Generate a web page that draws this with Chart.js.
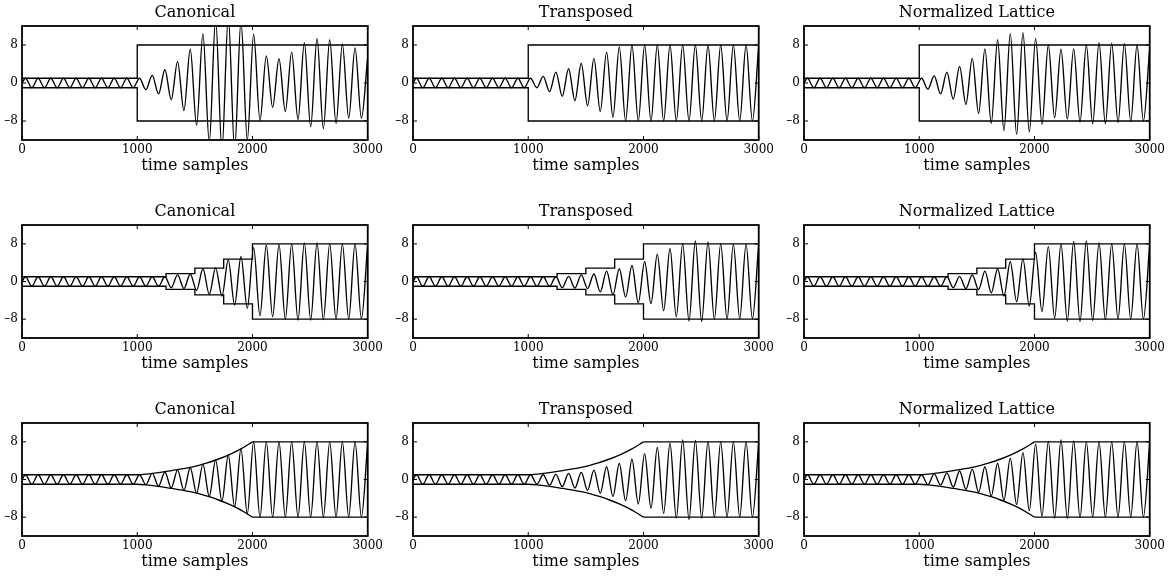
<!DOCTYPE html>
<html>
<head>
<meta charset="utf-8">
<script src="https://cdn.jsdelivr.net/npm/chart.js@4.4.1/dist/chart.umd.min.js"></script>
<style>
  body { margin: 0; background: #fff; }
  #page { position: relative; width: 1171px; height: 576px; overflow: hidden; }
  #page canvas { position: absolute; }
</style>
</head>
<body>
<div id="page"></div>
<script>
// titles and ticks
const panelTitles = ["Canonical", "Transposed", "Normalized Lattice"];
const xLabel = "time samples";
const xTicks = [0, 1000, 2000, 3000];
const yTicks = [-8, 0, 8];

// sample times of the signal's peaks and troughs
const sampleTimes = [0, 30, 85, 140, 195, 250, 305, 360, 415, 470, 525, 580, 635, 690, 745,
  800, 855, 910, 965, 1020, 1075, 1130, 1185, 1240, 1295, 1350, 1405, 1460, 1515, 1570,
  1625, 1680, 1735, 1790, 1845, 1900, 1955, 2010, 2065, 2120, 2175, 2230, 2285, 2340,
  2395, 2450, 2505, 2560, 2615, 2670, 2725, 2780, 2835, 2890, 2945, 3000];

// first part, same in every panel (t = 0 .. 965)
const leadIn = [0, 1, -1, 1, -1, 1, -1, 1, -1, 1, -1, 1, -1, 1, -1, 1, -1, 1, -1];

// rest of each signal (t = 1020 .. 3000)
const row1Canonical = [1.0, -1.4, 1.6, -2.3, 2.8, -3.5, 4.5, -5.8, 7.1, -8.9, 10.4, -12.5, 13.5, -14, 14, -14,
  13, -12, 10.3, -7.9, 5.7, -5.1, 5.1, -6.0, 6.5, -7.7, 8.5, -9.2, 9.4, -9.6, 9.1, -8.5, 8.2, -7.4, 7.4, -7.4, 5.5];
const row1Transposed = [1.0, -1.0, 1.4, -1.8, 2.3, -2.8, 3.0, -3.7, 4.1, -4.8, 5.2, -6.0, 6.5, -7.2, 7.6, -8.0,
  8.0, -8.0, 8.0, -8.0, 8.0, -8.0, 8.0, -8.0, 8.0, -8.0, 8.0, -8.0, 8.0, -8.0, 8.0, -8.0, 8.0, -8.0, 8.0, -8.0, 8.0];
const row1Lattice = [1.0, -1.3, 1.5, -2.3, 2.3, -3.4, 3.5, -4.5, 5.2, -6.4, 7.2, -8.5, 9.1, -10.0, 10.4, -10.8,
  10.6, -10.3, 9.4, -8.7, 8.0, -7.3, 7.1, -7.6, 7.2, -8.2, 8.0, -8.6, 8.5, -8.6, 8.4, -8.3, 8.3, -8.1, 8.0, -8.0, 7.5];

const row2Canonical = [1, -1, 1, -1, 1, -1.3, 1.4, -1.5, 1.6, -1.9, 2.7, -2.7, 2.9, -3.1, 4.6, -5.0,
  5.3, -5.7, 7.2, -7.3, 7.7, -7.5, 7.9, -8.0, 8.0, -8.2, 8.2, -8.2, 8.2, -8.1, 8.0, -8.0, 8.0, -8.0, 8.0, -7.9, 8.0];
const row2Transposed = [1, -1, 1, -1, 1, -1.3, 1.1, -1.4, 1.4, -1.5, 1.6, -2.2, 2.2, -2.8, 2.7, -3.3,
  3.4, -4.5, 4.2, -4.7, 5.8, -6.2, 7.0, -7.5, 8.0, -8.4, 8.6, -8.5, 8.4, -8.0, 8.0, -8.0, 7.9, -7.9, 7.9, -7.9, 8.0];
const row2Lattice = [1, -1, 1, -1, 1, -1.3, 1.1, -1.5, 1.4, -1.7, 2.2, -2.4, 2.7, -3.1, 4.2, -4.3,
  4.8, -5.2, 6.2, -6.4, 7.4, -7.8, 8.0, -8.4, 8.5, -8.5, 8.6, -8.3, 8.2, -8.1, 8.0, -8.0, 8.0, -8.0, 8.0, -8.0, 8.0];

const row3Canonical = [1.0, -1.1, 1.3, -1.4, 1.6, -1.8, 2.0, -2.3, 2.5, -2.9, 3.2, -3.6, 4.1, -4.6, 5.2, -5.8,
  6.5, -7.3, 8.0, -8.0, 8.0, -8.0, 8.0, -8.0, 8.0, -8.0, 8.0, -8.0, 8.0, -8.0, 8.0, -8.0, 8.0, -8.0, 8.0, -8.0, 8.0];
const row3Transposed = [1.0, -1.0, 1.0, -1.2, 1.1, -1.5, 1.3, -1.8, 1.5, -2.3, 2.0, -2.9, 2.7, -3.6, 3.4, -4.5,
  4.3, -5.2, 5.5, -6.1, 6.8, -7.2, 7.7, -8.2, 8.4, -8.5, 8.3, -8.2, 8.1, -8.0, 8.0, -8.0, 8.0, -8.0, 8.0, -8.0, 8.0];
const row3Lattice = [1.0, -1.1, 1.2, -1.2, 1.4, -1.6, 1.8, -2.1, 2.2, -2.7, 2.7, -3.5, 3.4, -4.4, 4.5, -5.3,
  5.7, -6.6, 7.5, -7.8, 8.1, -8.2, 8.4, -8.3, 8.2, -8.1, 8.0, -8.0, 8.0, -8.0, 8.0, -8.0, 8.0, -8.0, 8.0, -8.0, 8.0];

// input envelopes
const env1Times = [0, 1000, 1000, 3000];
const env1Upper = [1, 1, 8, 8];
const env1Lower = [-1, -1, -8, -8];

const env2Times = [0, 1250, 1250, 1500, 1500, 1750, 1750, 2000, 2000, 3000];
const env2Upper = [1, 1, 1.68, 1.68, 2.83, 2.83, 4.76, 4.76, 8, 8];
const env2Lower = [-1, -1, -1.68, -1.68, -2.83, -2.83, -4.76, -4.76, -8, -8];

const env3Times = [0, 1000, 1100, 1200, 1300, 1400, 1500, 1600, 1700, 1800, 1900, 2000];
const env3Upper = [1, 1, 1.2, 1.5, 1.9, 2.3, 2.8, 3.5, 4.3, 5.3, 6.5, 8];
const env3Lower = [-1, -1, -1.2, -1.5, -1.9, -2.3, -2.8, -3.5, -4.3, -5.3, -6.5, -8];
const env3FlatTimes = [2000, 3000];
const env3FlatUpper = [8, 8];
const env3FlatLower = [-8, -8];

const serif = "'DejaVu Serif', serif";
Chart.defaults.font.family = serif;
Chart.defaults.color = "#000";

const pts = (times, vals) => times.map((t, i) => ({ x: t, y: vals[i] }));

function lineSet(data, smooth) {
  return {
    data: data,
    borderColor: "#000",
    borderWidth: 1.35,
    pointRadius: 0,
    fill: false,
    tension: 0,
    cubicInterpolationMode: smooth ? "monotone" : "default",
    capBezierPoints: false,
  };
}

const rows = [
  {
    signals: [row1Canonical, row1Transposed, row1Lattice],
    envelope: () => [lineSet(pts(env1Times, env1Upper)), lineSet(pts(env1Times, env1Lower))],
  },
  {
    signals: [row2Canonical, row2Transposed, row2Lattice],
    envelope: () => [lineSet(pts(env2Times, env2Upper)), lineSet(pts(env2Times, env2Lower))],
  },
  {
    signals: [row3Canonical, row3Transposed, row3Lattice],
    envelope: () => [
      lineSet(pts(env3Times, env3Upper), true),
      lineSet(pts(env3Times, env3Lower), true),
      lineSet(pts(env3FlatTimes, env3FlatUpper)),
      lineSet(pts(env3FlatTimes, env3FlatLower)),
    ],
  },
];

// box round the plot, inward tick marks (matlab style) and the title centred on the plot
const boxTicks = {
  id: "boxTicks",
  afterDatasetsDraw(chart, args, opts) {
    const { ctx, chartArea: a, scales } = chart;
    ctx.save();
    ctx.strokeStyle = "#000";
    ctx.lineWidth = 1;
    ctx.beginPath();
    xTicks.forEach((v) => {
      const px = scales.x.getPixelForValue(v);
      ctx.moveTo(px, a.top);
      ctx.lineTo(px, a.top + 4);
      ctx.moveTo(px, a.bottom);
      ctx.lineTo(px, a.bottom - 4);
    });
    yTicks.forEach((v) => {
      const py = scales.y.getPixelForValue(v);
      ctx.moveTo(a.left, py);
      ctx.lineTo(a.left + 4, py);
      ctx.moveTo(a.right, py);
      ctx.lineTo(a.right - 4, py);
    });
    ctx.stroke();
    ctx.lineWidth = 1.8;
    ctx.strokeRect(a.left, a.top, a.right - a.left, a.bottom - a.top);

    ctx.fillStyle = "#000";
    ctx.font = "16px " + serif;
    ctx.textAlign = "center";
    ctx.textBaseline = "middle";
    ctx.fillText(opts.text, (a.left + a.right) / 2, a.top - 13);
    ctx.restore();
  },
};

const colLeft = [0, 391, 782];
const rowTop = [3, 202, 400];
const rowHeight = [173, 172, 172];
const page = document.getElementById("page");

rows.forEach((row, r) => {
  row.signals.forEach((tail, c) => {
    const canvas = document.createElement("canvas");
    canvas.width = 386;
    canvas.height = rowHeight[r];
    canvas.style.left = colLeft[c] + "px";
    canvas.style.top = rowTop[r] + "px";
    page.appendChild(canvas);

    const signal = leadIn.concat(tail);
    new Chart(canvas.getContext("2d"), {
      type: "line",
      data: {
        datasets: [lineSet(pts(sampleTimes, signal), true)].concat(row.envelope()),
      },
      options: {
        responsive: false,
        animation: false,
        devicePixelRatio: 1,
        layout: { padding: { left: 0, right: 16, top: 23, bottom: 0 } },
        plugins: {
          legend: { display: false },
          tooltip: { enabled: false },
          title: { display: false },
          boxTicks: { text: panelTitles[c] },
        },
        scales: {
          x: {
            type: "linear",
            min: 0,
            max: 3000,
            grid: { display: false, drawTicks: false },
            border: { display: false },
            afterBuildTicks: (s) => { s.ticks = xTicks.map((v) => ({ value: v })); },
            afterFit: (s) => { s.height = 36; },
            ticks: {
              font: { size: 12 },
              padding: 3,
              maxRotation: 0,
              autoSkip: false,
              callback: (v) => String(v),
            },
            title: {
              display: true,
              text: xLabel,
              font: { size: 16 },
              padding: { top: 0, bottom: 1 },
            },
          },
          y: {
            type: "linear",
            min: -12,
            max: 12,
            grid: { display: false, drawTicks: false },
            border: { display: false },
            afterBuildTicks: (s) => { s.ticks = yTicks.map((v) => ({ value: v })); },
            afterFit: (s) => { s.width = 22; },
            ticks: {
              font: { size: 12 },
              padding: 4,
              callback: (v) => String(v).replace("-", "\u2013"),
            },
          },
        },
      },
      plugins: [boxTicks],
    });
  });
});
</script>
</body>
</html>
